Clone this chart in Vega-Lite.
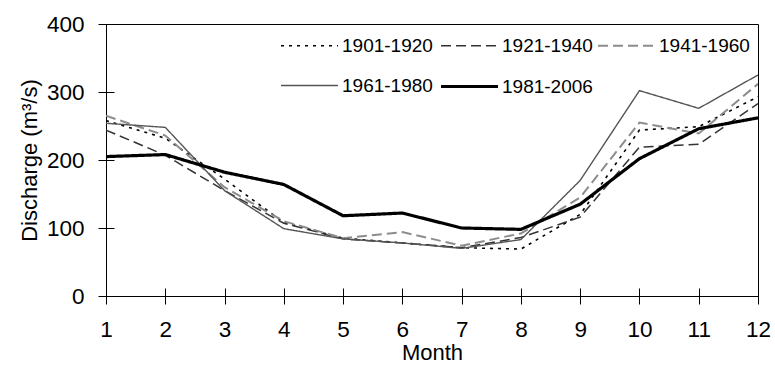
{
  "$schema": "https://vega.github.io/schema/vega-lite/v6.json",
  "autosize": "none",
  "width": 652,
  "height": 272,
  "padding": {"left": 106, "top": 24, "right": 17, "bottom": 75},
  "background": "white",
  "config": {
    "font": "Liberation Sans",
    "view": {"stroke": "black", "strokeWidth": 1},
    "axis": {
      "domain": false,
      "grid": false,
      "offset": -8,
      "tickSize": 16,
      "tickColor": "black",
      "tickWidth": 1,
      "labelFont": "Liberation Sans",
      "labelFontSize": 22.5,
      "labelColor": "black",
      "labelPadding": 14,
      "labelFlush": false,
      "titleFont": "Liberation Sans",
      "titleFontSize": 22,
      "titleFontWeight": "normal",
      "titleColor": "black"
    },
    "legend": {
      "labelFont": "Liberation Sans",
      "labelFontSize": 19,
      "labelColor": "black"
    }
  },
  "data": {
    "values": [
      {"month": 1, "period": "1901-1920", "q": 258},
      {"month": 2, "period": "1901-1920", "q": 232},
      {"month": 3, "period": "1901-1920", "q": 172},
      {"month": 4, "period": "1901-1920", "q": 108},
      {"month": 5, "period": "1901-1920", "q": 85},
      {"month": 6, "period": "1901-1920", "q": 78},
      {"month": 7, "period": "1901-1920", "q": 71},
      {"month": 8, "period": "1901-1920", "q": 69},
      {"month": 9, "period": "1901-1920", "q": 120},
      {"month": 10, "period": "1901-1920", "q": 244},
      {"month": 11, "period": "1901-1920", "q": 249},
      {"month": 12, "period": "1901-1920", "q": 293},

      {"month": 1, "period": "1921-1940", "q": 244},
      {"month": 2, "period": "1921-1940", "q": 207},
      {"month": 3, "period": "1921-1940", "q": 155},
      {"month": 4, "period": "1921-1940", "q": 107},
      {"month": 5, "period": "1921-1940", "q": 84},
      {"month": 6, "period": "1921-1940", "q": 78},
      {"month": 7, "period": "1921-1940", "q": 71},
      {"month": 8, "period": "1921-1940", "q": 86},
      {"month": 9, "period": "1921-1940", "q": 116},
      {"month": 10, "period": "1921-1940", "q": 219},
      {"month": 11, "period": "1921-1940", "q": 223},
      {"month": 12, "period": "1921-1940", "q": 283},

      {"month": 1, "period": "1941-1960", "q": 265},
      {"month": 2, "period": "1941-1960", "q": 236},
      {"month": 3, "period": "1941-1960", "q": 160},
      {"month": 4, "period": "1941-1960", "q": 110},
      {"month": 5, "period": "1941-1960", "q": 85},
      {"month": 6, "period": "1941-1960", "q": 94},
      {"month": 7, "period": "1941-1960", "q": 74},
      {"month": 8, "period": "1941-1960", "q": 92},
      {"month": 9, "period": "1941-1960", "q": 145},
      {"month": 10, "period": "1941-1960", "q": 255},
      {"month": 11, "period": "1941-1960", "q": 239},
      {"month": 12, "period": "1941-1960", "q": 312},

      {"month": 1, "period": "1961-1980", "q": 254},
      {"month": 2, "period": "1961-1980", "q": 248},
      {"month": 3, "period": "1961-1980", "q": 155},
      {"month": 4, "period": "1961-1980", "q": 99},
      {"month": 5, "period": "1961-1980", "q": 84},
      {"month": 6, "period": "1961-1980", "q": 78},
      {"month": 7, "period": "1961-1980", "q": 70},
      {"month": 8, "period": "1961-1980", "q": 83},
      {"month": 9, "period": "1961-1980", "q": 170},
      {"month": 10, "period": "1961-1980", "q": 302},
      {"month": 11, "period": "1961-1980", "q": 276},
      {"month": 12, "period": "1961-1980", "q": 325},

      {"month": 1, "period": "1981-2006", "q": 205},
      {"month": 2, "period": "1981-2006", "q": 208},
      {"month": 3, "period": "1981-2006", "q": 182},
      {"month": 4, "period": "1981-2006", "q": 164},
      {"month": 5, "period": "1981-2006", "q": 118},
      {"month": 6, "period": "1981-2006", "q": 122},
      {"month": 7, "period": "1981-2006", "q": 100},
      {"month": 8, "period": "1981-2006", "q": 98},
      {"month": 9, "period": "1981-2006", "q": 135},
      {"month": 10, "period": "1981-2006", "q": 202},
      {"month": 11, "period": "1981-2006", "q": 246},
      {"month": 12, "period": "1981-2006", "q": 262}
    ]
  },
  "mark": {"type": "line", "clip": true},
  "encoding": {
    "x": {
      "field": "month",
      "type": "quantitative",
      "title": "Month",
      "scale": {"domain": [1, 12], "nice": false, "zero": false},
      "axis": {"values": [1,2,3,4,5,6,7,8,9,10,11,12], "format": "d", "titlePadding": 2}
    },
    "y": {
      "field": "q",
      "type": "quantitative",
      "title": "Discharge (m³/s)",
      "scale": {"domain": [0, 400], "nice": false},
      "axis": {"values": [0, 100, 200, 300, 400], "titlePadding": 5}
    },
    "color": {
      "field": "period",
      "type": "nominal",
      "title": null,
      "scale": {
        "domain": ["1901-1920", "1921-1940", "1941-1960", "1961-1980", "1981-2006"],
        "range": ["#000000", "#333333", "#8c8c8c", "#555555", "#000000"]
      },
      "legend": {
        "orient": "none",
        "direction": "horizontal",
        "legendX": 173,
        "legendY": -8,
        "columns": 3,
        "symbolType": "stroke",
        "symbolSize": 3249,
        "labelOffset": 2,
        "columnPadding": 1,
        "rowPadding": -18,
        "padding": 0
      }
    },
    "strokeDash": {
      "field": "period",
      "type": "nominal",
      "title": null,
      "scale": {
        "domain": ["1901-1920", "1921-1940", "1941-1960", "1961-1980", "1981-2006"],
        "range": [[3, 5], [10, 5], [10, 5], [1, 0], [1, 0]]
      }
    },
    "strokeWidth": {
      "field": "period",
      "type": "nominal",
      "title": null,
      "scale": {
        "type": "ordinal",
        "domain": ["1901-1920", "1921-1940", "1941-1960", "1961-1980", "1981-2006"],
        "range": [1.6, 1.5, 2, 1.4, 3.2]
      }
    }
  }
}
